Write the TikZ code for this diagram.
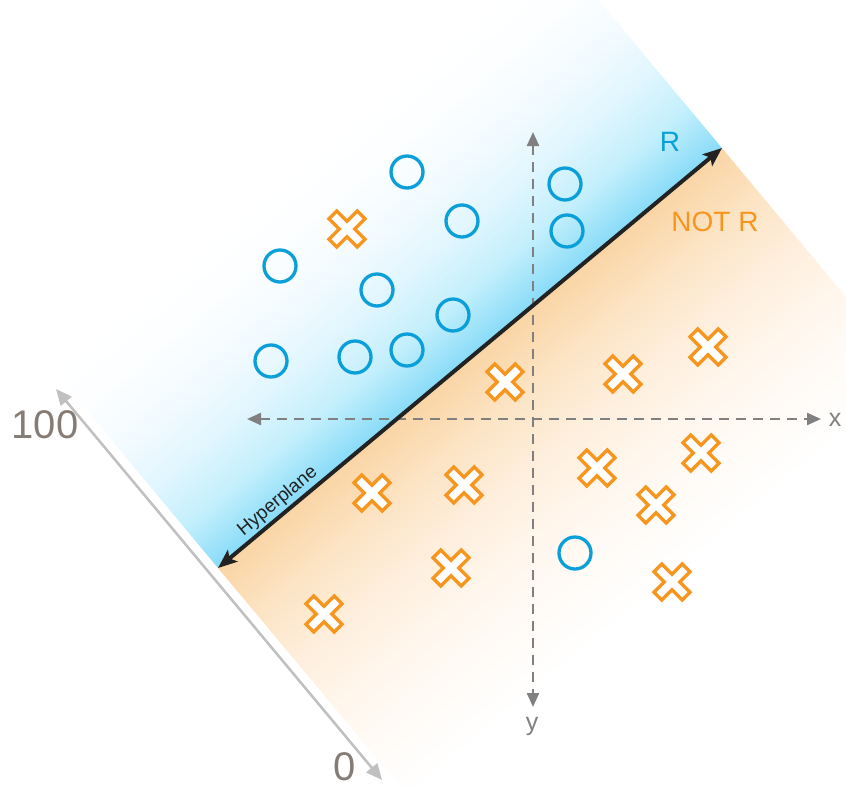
\documentclass[tikz,border=0pt]{standalone}
\usepackage{fontspec}
\setmainfont{Liberation Sans}
\usetikzlibrary{arrows.meta}
\definecolor{cblue}{RGB}{10,159,216}
\definecolor{corange}{RGB}{247,150,30}
\definecolor{axgray}{RGB}{128,128,128}
\definecolor{numgray}{RGB}{134,124,118}
\definecolor{lgray}{RGB}{192,192,192}
\definecolor{hdark}{RGB}{34,34,34}
\definecolor{hb0}{RGB}{135,219,248}
\definecolor{hb1}{RGB}{165,229,250}
\definecolor{hb2}{RGB}{195,239,252}
\definecolor{hb3}{RGB}{225,246,254}
\definecolor{hb4}{RGB}{243,251,255}
\definecolor{hb5}{RGB}{252,254,255}
\definecolor{ho0}{RGB}{250,213,165}
\definecolor{ho1}{RGB}{251,220,180}
\definecolor{ho2}{RGB}{252,228,196}
\definecolor{ho3}{RGB}{254,238,220}
\definecolor{ho4}{RGB}{255,246,236}
\definecolor{ho5}{RGB}{255,251,247}
\pgfdeclareverticalshading{bluefade}{100bp}{color(0bp)=(hb0); color(25bp)=(hb0); color(30bp)=(hb1); color(35bp)=(hb2); color(45bp)=(hb3); color(55bp)=(hb4); color(65bp)=(hb5); color(75bp)=(white); color(100bp)=(white)}
\pgfdeclareverticalshading{orangefade}{100bp}{color(0bp)=(white); color(25bp)=(white); color(35bp)=(ho5); color(45bp)=(ho4); color(55bp)=(ho3); color(65bp)=(ho2); color(70bp)=(ho1); color(75bp)=(ho0); color(100bp)=(ho0)}
\begin{document}
\begin{tikzpicture}[x=1pt,y=-1pt,
  bc/.style={circle, draw=cblue, line width=3.3pt, minimum size=32pt, inner sep=0pt},
  xline/.style={draw=corange, fill=white, line width=3.3pt, line join=miter},
  xmark/.pic={\draw[xline, rotate=45] (5.5,5.5) -- (20,5.5) -- (20,-5.5) -- (5.5,-5.5) -- (5.5,-20) -- (-5.5,-20) -- (-5.5,-5.5) -- (-20,-5.5) -- (-20,5.5) -- (-5.5,5.5) -- (-5.5,20) -- (5.5,20) -- cycle;},
  axisline/.style={draw=axgray, line width=2.3pt, dash pattern=on 10pt off 7pt,
    arrows={Triangle[length=14pt,width=12pt]-Triangle[length=14pt,width=12pt]}},
  hyper/.style={draw=hdark, line width=4pt,
    arrows={Stealth[length=19pt,width=15pt,inset=4pt]-Stealth[length=19pt,width=15pt,inset=4pt]}},
  scaleaxis/.style={draw=lgray, line width=2.5pt,
    arrows={Triangle[length=16pt,width=14pt]-Triangle[length=16pt,width=14pt]}},
  axlab/.style={text=axgray, font=\fontsize{25}{27}\selectfont, inner sep=0pt},
  numlab/.style={text=numgray, font=\fontsize{40}{42}\selectfont, inner sep=0pt},
  reglab/.style={font=\fontsize{28}{30}\selectfont, inner sep=0pt},
  hlabel/.style={text=hdark, font=\fontsize{19}{21}\selectfont, inner sep=1pt}
]
\useasboundingbox (0,0) rectangle (846,785);
% bands
\begin{scope}[transform canvas={shift={(218pt,-568pt)},rotate=39.81}]
  \shade[shading=bluefade] (0pt,0pt) rectangle (656pt,260pt);
  \shade[shading=orangefade] (0pt,-300pt) rectangle (656pt,0.3pt);
\end{scope}
% axes
\coordinate (xl) at (247,419);
\coordinate (xr) at (821,419);
\coordinate (yt) at (533,132);
\coordinate (yb) at (533,707);
\draw[axisline] (xl) -- (xr);
\draw[axisline] (yt) -- (yb);
\node[axlab] (lx) at (835,420) {x};
\node[axlab] (ly) at (532,726) {y};
% scale axis
\coordinate (s100) at (56,389);
\coordinate (s0) at (382,780);
\draw[scaleaxis] (s100) -- (s0);
\node[numlab] (n100) at (45,425) {100};
\node[numlab] (n0) at (345,767) {0};
% hyperplane
\coordinate (hA) at (218,568);
\coordinate (hB) at (722,148);
\draw[hyper] (hA) -- node[pos=0.135, sloped, above=1pt, hlabel] (hl) {Hyperplane} (hB);
\node[reglab, text=cblue] (lr) at (670,142) {R};
\node[reglab, text=corange] (lnr) at (715,222) {NOT R};
% circles
\node[bc] (c1) at (407,172) {};
\node[bc] (c2) at (565,184) {};
\node[bc] (c3) at (462,221) {};
\node[bc] (c4) at (567,231) {};
\node[bc] (c5) at (280,266) {};
\node[bc] (c6) at (377,290) {};
\node[bc] (c7) at (453,315) {};
\node[bc] (c8) at (271,361) {};
\node[bc] (c9) at (355,357) {};
\node[bc] (c10) at (407,350) {};
\node[bc] (c11) at (575,553) {};
% crosses
\pic at (347,229) {xmark};
\pic at (505,382) {xmark};
\pic at (623,374) {xmark};
\pic at (708,347) {xmark};
\pic at (597,468) {xmark};
\pic at (701,453) {xmark};
\pic at (372,493) {xmark};
\pic at (464,485) {xmark};
\pic at (656,505) {xmark};
\pic at (451,568) {xmark};
\pic at (672,582) {xmark};
\pic at (324,614) {xmark};
\end{tikzpicture}
\end{document}
